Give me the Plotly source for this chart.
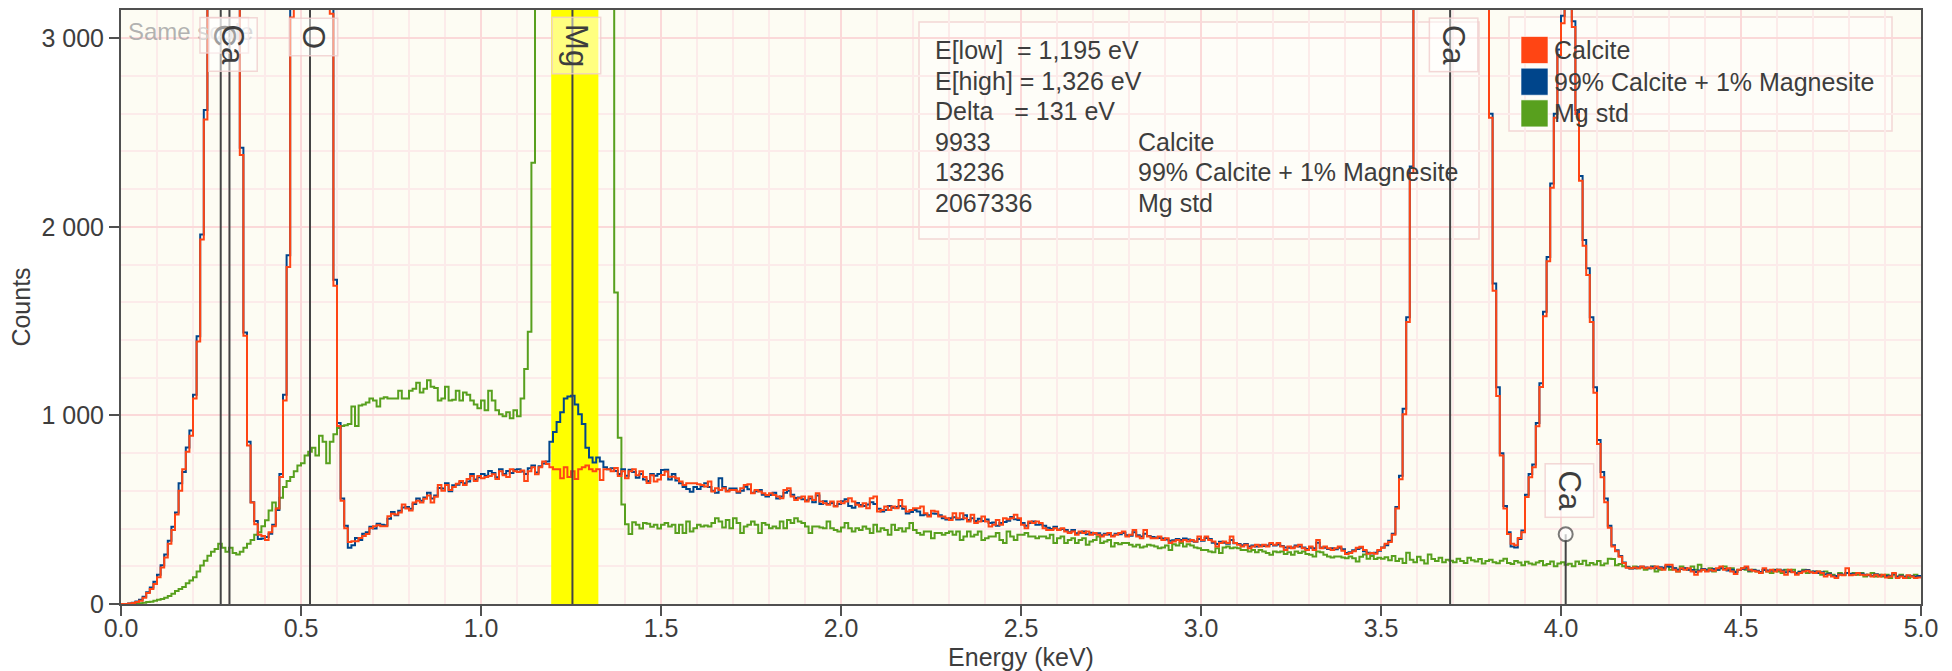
import plotly.graph_objects as go

# ---------------- data ----------------
BIN_KEV = 0.01  # channel width of the spectra

calcite = [
    0, 0, 2, 5, 10, 17, 33, 58, 79, 106,
    142, 194, 246, 319, 392, 475, 600, 715, 808, 892,
    1090, 1392, 1933, 2569, 3800, 4800, 5600, 6000, 6200, 6300,
    5800, 4800, 3600, 2381, 1423, 840, 538, 423, 367, 360,
    340, 381, 412, 506, 673, 1079, 1787, 3110, 4500, 6500,
    8500, 9800, 10200, 9800, 8600, 7000, 5200, 3800, 3130, 1688,
    944, 548, 402, 329, 333, 333, 350, 360, 371, 402,
    412, 417, 412, 412, 465, 479, 475, 485, 527, 506,
    496, 538, 548, 538, 558, 575, 538, 569, 631, 600,
    631, 604, 621, 638, 652, 631, 663, 679, 652, 679,
    667, 673, 679, 688, 663, 704, 683, 673, 715, 704,
    700, 708, 652, 704, 725, 688, 725, 756, 742, 725,
    715, 715, 667, 725, 673, 704, 663, 715, 725, 735,
    715, 704, 715, 658, 715, 715, 704, 721, 679, 704,
    667, 704, 715, 683, 704, 673, 642, 683, 650, 660,
    684, 702, 675, 675, 667, 649, 631, 640, 640, 640,
    635, 631, 623, 649, 596, 614, 605, 614, 596, 605,
    605, 596, 614, 631, 635, 587, 605, 596, 587, 578,
    587, 578, 570, 561, 605, 614, 570, 552, 561, 570,
    543, 570, 552, 587, 543, 534, 526, 543, 517, 543,
    534, 543, 561, 543, 526, 517, 534, 508, 561, 570,
    490, 499, 517, 499, 517, 508, 552, 517, 490, 499,
    508, 508, 517, 481, 464, 494, 490, 464, 464, 455,
    446, 481, 455, 481, 455, 437, 473, 429, 437, 464,
    437, 411, 420, 446, 420, 455, 450, 455, 473, 455,
    420, 402, 437, 429, 437, 429, 402, 393, 393, 402,
    393, 402, 384, 376, 384, 367, 384, 376, 384, 367,
    376, 367, 358, 367, 376, 358, 367, 376, 384, 358,
    367, 393, 358, 349, 393, 358, 349, 349, 358, 340,
    349, 323, 332, 340, 332, 340, 332, 340, 332, 358,
    340, 358, 340, 332, 305, 323, 332, 323, 358, 323,
    314, 305, 314, 296, 305, 314, 305, 314, 305, 323,
    314, 323, 305, 287, 305, 296, 305, 314, 296, 287,
    305, 287, 340, 296, 305, 296, 287, 296, 305, 282,
    265, 270, 280, 298, 304, 287, 267, 271, 267, 287,
    298, 319, 329, 367, 506, 662, 1006, 1495, 2286, 3900,
    5500, 7800, 10500, 13500, 16500, 19000, 21000, 22000, 22000, 21000,
    19000, 16500, 14000, 11500, 9000, 7000, 5400, 4200, 3500, 3250,
    2578, 1661, 1103, 787, 506, 371, 319, 312, 350, 381,
    568, 672, 725, 943, 1151, 1526, 1818, 2207, 2578, 2911,
    3080, 3200, 3300, 3060, 2598, 2244, 1900, 1745, 1495, 1120,
    849, 672, 540, 405, 305, 280, 250, 217, 192, 190,
    194, 190, 199, 190, 194, 190, 199, 190, 182, 208,
    208, 182, 173, 190, 182, 190, 173, 155, 173, 182,
    173, 182, 176, 190, 199, 182, 190, 173, 159, 182,
    190, 199, 182, 176, 173, 164, 190, 173, 182, 173,
    182, 173, 155, 182, 169, 155, 164, 173, 176, 169,
    164, 173, 164, 146, 155, 146, 138, 155, 152, 190,
    152, 155, 164, 155, 152, 155, 146, 155, 146, 155,
    141, 146, 164, 138, 146, 138, 152, 146, 138, 141,
]

calcite_magnesite = [
    0, 0, 3, 7, 13, 22, 38, 62, 88, 118,
    155, 205, 262, 335, 410, 485, 640, 700, 830, 920,
    1110, 1420, 1960, 2620, 3900, 4900, 5700, 6100, 6300, 6400,
    5900, 4900, 3700, 2420, 1440, 860, 540, 440, 345, 348,
    355, 372, 420, 498, 690, 1110, 1850, 3190, 4600, 6600,
    8600, 9900, 10300, 9900, 8700, 7100, 5300, 3900, 3190, 1720,
    960, 560, 415, 298, 312, 350, 340, 372, 380, 410,
    400, 425, 420, 418, 452, 488, 470, 495, 512, 515,
    505, 530, 560, 548, 565, 590, 560, 575, 615, 612,
    640, 598, 630, 632, 645, 640, 650, 690, 660, 672,
    690, 680, 705, 695, 672, 715, 690, 705, 695, 712,
    715, 702, 690, 720, 735, 698, 730, 745, 756, 860,
    912, 965, 1017, 1090, 1100, 1104, 1058, 1006, 954, 829,
    777, 750, 777, 756, 725, 715, 720, 705, 690, 715,
    680, 712, 700, 670, 690, 660, 652, 690, 680, 690,
    711, 712, 660, 690, 655, 640, 620, 610, 595, 620,
    610, 625, 640, 620, 600, 590, 667, 620, 600, 612,
    612, 590, 600, 622, 608, 590, 598, 605, 580, 570,
    578, 590, 560, 570, 590, 600, 580, 562, 565, 555,
    550, 560, 540, 575, 530, 545, 530, 535, 520, 530,
    545, 556, 520, 510, 535, 525, 520, 528, 540, 530,
    505, 490, 498, 520, 510, 515, 520, 505, 480, 488,
    498, 490, 470, 475, 470, 480, 478, 470, 455, 448,
    455, 460, 448, 450, 470, 445, 455, 440, 452, 440,
    448, 430, 432, 415, 430, 435, 442, 462, 450, 445,
    430, 415, 430, 438, 420, 422, 415, 405, 398, 410,
    395, 398, 392, 380, 392, 375, 378, 385, 370, 378,
    372, 375, 365, 372, 368, 362, 372, 370, 376, 365,
    362, 380, 365, 358, 372, 360, 355, 352, 350, 348,
    342, 335, 338, 345, 340, 348, 342, 335, 330, 345,
    335, 350, 345, 325, 318, 330, 325, 320, 340, 322,
    318, 312, 318, 305, 310, 305, 312, 308, 310, 318,
    310, 316, 308, 300, 298, 300, 310, 305, 300, 292,
    298, 295, 325, 300, 298, 292, 295, 290, 298, 290,
    270, 275, 285, 292, 298, 280, 272, 268, 272, 282,
    300, 312, 335, 372, 515, 680, 1035, 1520, 2320, 3950,
    5600, 7900, 10600, 13600, 16600, 19100, 21100, 22100, 22100, 21100,
    19100, 16600, 14100, 11600, 9100, 7100, 5500, 4300, 3600, 3300,
    2600, 1700, 1150, 800, 520, 380, 305, 300, 345, 390,
    580, 690, 740, 960, 1170, 1550, 1840, 2230, 2600, 2940,
    3120, 3250, 3340, 3090, 2620, 2270, 1930, 1780, 1520, 1150,
    870, 700, 560, 415, 312, 285, 255, 220, 195, 188,
    190, 195, 198, 194, 190, 198, 190, 195, 192, 200,
    198, 190, 182, 185, 190, 182, 180, 170, 178, 185,
    182, 178, 185, 182, 190, 186, 178, 182, 170, 180,
    186, 192, 178, 180, 176, 170, 180, 178, 176, 180,
    182, 178, 168, 175, 170, 162, 170, 176, 180, 168,
    172, 165, 168, 158, 160, 150, 148, 158, 155, 165,
    160, 158, 165, 160, 155, 152, 150, 158, 150, 152,
    148, 150, 160, 145, 150, 142, 150, 148, 145, 148,
]

mg_std = [
    0, 0, 0, 1, 2, 4, 6, 10, 12, 17,
    23, 27, 33, 42, 54, 69, 79, 90, 110, 125,
    142, 173, 204, 229, 256, 277, 292, 319, 298, 277,
    298, 271, 262, 277, 298, 319, 340, 367, 381, 412,
    444, 496, 538, 506, 563, 621, 652, 673, 704, 735,
    746, 788, 808, 829, 788, 892, 860, 746, 860, 900,
    933, 944, 948, 954, 1048, 944, 1052, 1058, 1069, 1090,
    1079, 1048, 1090, 1096, 1090, 1090, 1090, 1131, 1090, 1090,
    1131, 1142, 1173, 1121, 1142, 1187, 1152, 1146, 1079, 1090,
    1152, 1079, 1083, 1131, 1079, 1121, 1110, 1079, 1058, 1038,
    1079, 1027, 1131, 1079, 1027, 1006, 996, 1017, 985, 1027,
    996, 1090, 1246, 1444, 2340, 3600, 5500, 9000, 14000, 20000,
    27000, 34000, 40000, 44000, 46000, 45000, 42000, 37000, 31000, 25000,
    19000, 14000, 10000, 7000, 5000, 3800, 3300, 1652, 881, 527,
    423, 371, 433, 420, 400, 430, 425, 410, 420, 400,
    420, 429, 411, 420, 376, 420, 376, 437, 384, 402,
    420, 411, 416, 411, 429, 455, 437, 406, 446, 402,
    455, 429, 376, 411, 420, 437, 420, 376, 429, 420,
    402, 411, 402, 437, 402, 446, 429, 455, 437, 429,
    411, 376, 411, 411, 406, 402, 437, 402, 393, 384,
    406, 429, 402, 384, 402, 393, 411, 399, 376, 420,
    384, 402, 393, 367, 420, 393, 402, 384, 402, 429,
    393, 376, 367, 384, 384, 349, 376, 376, 367, 376,
    384, 367, 384, 340, 358, 384, 358, 367, 384, 340,
    349, 358, 358, 376, 340, 323, 384, 358, 340, 367,
    367, 376, 358, 358, 349, 358, 358, 349, 367, 323,
    349, 358, 323, 340, 349, 323, 340, 349, 314, 332,
    340, 358, 323, 332, 340, 305, 323, 317, 323, 323,
    314, 305, 314, 300, 305, 314, 310, 305, 296, 300,
    310, 287, 317, 310, 323, 305, 317, 310, 300, 296,
    287, 287, 279, 275, 296, 270, 300, 305, 296, 300,
    296, 287, 287, 279, 287, 275, 287, 279, 270, 261,
    279, 275, 279, 265, 275, 261, 279, 270, 279, 265,
    261, 252, 279, 275, 261, 252, 247, 252, 252, 247,
    243, 252, 243, 226, 250, 262, 240, 255, 238, 245,
    240, 248, 232, 255, 228, 240, 218, 272, 235, 222,
    250, 232, 215, 262, 238, 228, 245, 222, 235, 230,
    222, 240, 228, 218, 245, 232, 225, 238, 215, 228,
    235, 222, 216, 230, 240, 218, 212, 228, 220, 206,
    224, 215, 210, 220, 228, 205, 212, 225, 200, 215,
    222, 208, 214, 200, 225, 212, 230, 205, 218, 210,
    228, 205, 215, 240, 238, 205, 212, 200, 198, 190,
    199, 190, 194, 182, 190, 199, 173, 182, 190, 199,
    182, 190, 173, 199, 190, 182, 199, 182, 208, 182,
    182, 190, 173, 182, 190, 199, 182, 190, 173, 182,
    190, 182, 173, 182, 173, 164, 182, 173, 164, 182,
    173, 164, 182, 173, 182, 164, 173, 182, 164, 173,
    164, 173, 155, 173, 164, 155, 146, 164, 155, 164,
    155, 164, 155, 164, 146, 155, 164, 146, 155, 146,
    155, 138, 155, 146, 155, 146, 138, 146, 155, 146,
]

series_names = ["Calcite", "99% Calcite + 1% Magnesite", "Mg std"]
series_values = [calcite, calcite_magnesite, mg_std]

# characteristic lines (element, energy keV)
line_elements = ["C", "Ca", "O", "Mg", "Ca"]
line_energies = [0.277, 0.3013, 0.525, 1.254, 3.692]
marker_element = "Ca"
marker_energy = 4.013
marker_counts = 370

# integration window and its totals
window_low_kev = 1.195
window_high_kev = 1.326
window_totals = [9933, 13236, 2067336]

x_ticks = [0.0, 0.5, 1.0, 1.5, 2.0, 2.5, 3.0, 3.5, 4.0, 4.5, 5.0]
y_ticks = [0, 1000, 2000, 3000]
y_tick_text = ["0", "1 000", "2 000", "3 000"]
Y_MAX = 3150

# ---------------- styling ----------------
W, H = 1952, 671
ML, MR, MT, MB = 121, 31, 10, 67
FONT = "Liberation Sans, Arial, sans-serif"
TXT = "#3d3d3d"
COLORS = {"Calcite": "#ff4514", "99% Calcite + 1% Magnesite": "#00458b", "Mg std": "#58a01e"}
GRID_MAJOR = "#fbd9d9"
GRID_MINOR = "#fcebea"
ROW0, ROW_STEP = 50, 30.6   # info-box text rows (px from top)


def px(x):
    return (x - ML) / (W - ML - MR)


def py(y):
    return 1 - (y - MT) / (H - MT - MB)


for v in series_values:
    assert len(v) == 500, len(v)

fig = go.Figure()

# integration window band (drawn as a filled trace so it covers the grid)
fig.add_trace(go.Scatter(
    x=[window_low_kev, window_high_kev, window_high_kev, window_low_kev, window_low_kev],
    y=[0, 0, Y_MAX, Y_MAX, 0], mode="lines", fill="toself", fillcolor="#ffff00",
    line=dict(width=0, color="#ffff00"), showlegend=False, hoverinfo="skip",
))

# draw order: Mg std, mixture, calcite (calcite on top)
for name, vals in reversed(list(zip(series_names, series_values))):
    xs = [i * BIN_KEV for i in range(len(vals))] + [len(vals) * BIN_KEV]
    ys = list(vals) + [vals[-1]]
    fig.add_trace(go.Scatter(
        x=xs, y=ys, mode="lines", name=name,
        line=dict(shape="hv", width=2, color=COLORS[name]),
        showlegend=False, hoverinfo="x+y+name",
    ))

# Ca K-beta marker (short line with open circle)
fig.add_trace(go.Scatter(
    x=[marker_energy, marker_energy], y=[0, marker_counts], mode="lines+markers",
    line=dict(color="#444", width=2),
    marker=dict(size=[0, 14], color="white", line=dict(color="#444", width=2)),
    showlegend=False, hoverinfo="skip",
))

shapes = []
annotations = []

# element lines
for e in line_energies:
    shapes.append(dict(type="line", xref="x", yref="paper", x0=e, x1=e, y0=0, y1=1,
                       line=dict(color="#444", width=2), layer="above"))

# info box
shapes.append(dict(type="rect", xref="paper", yref="paper", x0=px(919), x1=px(1479),
                   y0=py(239), y1=py(22), fillcolor="rgba(255,255,255,0.45)",
                   line=dict(color="rgba(240,205,205,0.8)", width=1.5), layer="between"))
# legend box
shapes.append(dict(type="rect", xref="paper", yref="paper", x0=px(1509), x1=px(1892),
                   y0=py(131), y1=py(17), fillcolor="rgba(255,255,255,0.45)",
                   line=dict(color="rgba(240,205,205,0.8)", width=1.5), layer="between"))

# "Same scale"
annotations.append(dict(xref="paper", yref="paper", x=px(126), y=py(32), xanchor="left",
                        yanchor="middle", text="Same scale", showarrow=False,
                        font=dict(family=FONT, size=24, color="rgba(165,165,165,0.85)")))

label_style = dict(showarrow=False, textangle=90, xshift=4,
                   font=dict(family=FONT, size=31, color=TXT),
                   bgcolor="rgba(255,255,255,0.5)", bordercolor="rgba(240,205,205,0.8)",
                   borderwidth=1.5, borderpad=6)
for el, e in zip(line_elements, line_energies):
    annotations.append(dict(x=e, xref="x", y=py(17), yref="paper", text=el,
                            xanchor="center", yanchor="top", **label_style))
annotations.append(dict(x=marker_energy, xref="x", y=marker_counts, yref="y", text=marker_element,
                        xanchor="center", yanchor="bottom", yshift=16, **label_style))

# info text, one row per annotation
delta_ev = int(round((window_high_kev - window_low_kev) * 1000))
nb = "\u00a0"
info_rows = [
    f"E[low]{nb}{nb}={nb}{int(round(window_low_kev * 1000)):,}{nb}eV",
    f"E[high]{nb}={nb}{int(round(window_high_kev * 1000)):,}{nb}eV",
    f"Delta{nb}{nb}{nb}={nb}{delta_ev}{nb}eV",
]
info_font = dict(family=FONT, size=25, color=TXT)
for r, txt in enumerate(info_rows):
    annotations.append(dict(xref="paper", yref="paper", x=px(933), y=py(ROW0 + r * ROW_STEP),
                            xanchor="left", yanchor="middle", text=txt, showarrow=False,
                            font=info_font))
for k, (tot, name) in enumerate(zip(window_totals, series_names)):
    r = len(info_rows) + k
    annotations.append(dict(xref="paper", yref="paper", x=px(933), y=py(ROW0 + r * ROW_STEP),
                            xanchor="left", yanchor="middle", text=str(tot), showarrow=False,
                            font=info_font))
    annotations.append(dict(xref="paper", yref="paper", x=px(1136), y=py(ROW0 + r * ROW_STEP),
                            xanchor="left", yanchor="middle", text=name, showarrow=False,
                            font=info_font))

# manual legend with square swatches
for k, name in enumerate(series_names):
    cy = 50 + k * 31.7
    shapes.append(dict(type="rect", xref="paper", yref="paper", x0=px(1521), x1=px(1548),
                       y0=py(cy + 13.5), y1=py(cy - 13.5), fillcolor=COLORS[name],
                       line=dict(color="rgba(255,255,255,0.6)", width=1), layer="above"))
    annotations.append(dict(xref="paper", yref="paper", x=px(1552), y=py(cy), xanchor="left",
                            yanchor="middle", text=name, showarrow=False,
                            font=dict(family=FONT, size=25, color=TXT)))

axis_common = dict(
    showline=True, linecolor="#505050", linewidth=2, mirror=True,
    ticks="outside", ticklen=10, tickwidth=2, tickcolor="#505050",
    tickfont=dict(family=FONT, size=25, color=TXT),
    showgrid=True, gridcolor=GRID_MAJOR, gridwidth=2, zeroline=False,
    automargin=False,
)

fig.update_layout(
    width=W, height=H,
    margin=dict(l=ML, r=MR, t=MT, b=MB, autoexpand=False),
    paper_bgcolor="white", plot_bgcolor="#fdfcf3",
    font=dict(family=FONT, size=25, color=TXT),
    showlegend=False,
    shapes=shapes, annotations=annotations,
    xaxis=dict(range=[0, 5], tickmode="array", tickvals=x_ticks,
               ticktext=[f"{t:.1f}" for t in x_ticks], ticklabelstandoff=-9,
               title=dict(text="Energy (keV)", font=dict(family=FONT, size=25, color=TXT), standoff=7),
               minor=dict(tickmode="linear", tick0=0, dtick=0.1, showgrid=True,
                          gridcolor=GRID_MINOR, gridwidth=1.5, ticks=""),
               **axis_common),
    yaxis=dict(range=[0, Y_MAX], tickmode="array", tickvals=y_ticks, ticktext=y_tick_text,
               title=dict(text="Counts", font=dict(family=FONT, size=25, color=TXT), standoff=4),
               minor=dict(tickmode="linear", tick0=0, dtick=200, showgrid=True,
                          gridcolor=GRID_MINOR, gridwidth=1.5, ticks=""),
               **axis_common),
)

fig.write_html("out.html", config={"displayModeBar": False},
               post_script="document.body.style.margin='0';")
